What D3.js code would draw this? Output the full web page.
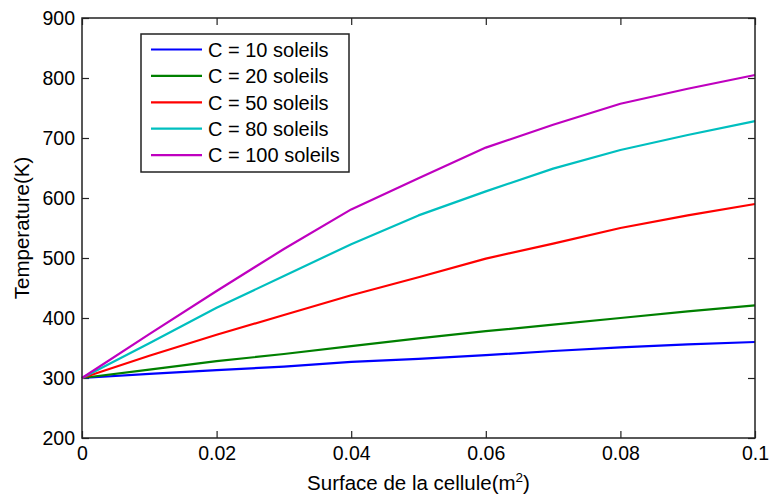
<!DOCTYPE html>
<html>
<head>
<meta charset="utf-8">
<script src="https://cdn.jsdelivr.net/npm/d3@7"></script>
<style>
  html, body { margin: 0; padding: 0; background: #fff; }
  svg { display: block; font-family: "Liberation Sans", Arial, sans-serif; }
</style>
</head>
<body>
<svg id="chart" width="773" height="497"></svg>
<script>
// ---- data ----
const surfaces = [0, 0.01, 0.02, 0.03, 0.04, 0.05, 0.06, 0.07, 0.08, 0.09, 0.1];
const seriesNames = ["C = 10 soleils", "C = 20 soleils", "C = 50 soleils", "C = 80 soleils", "C = 100 soleils"];
const tempC10  = [300, 307, 313, 319, 327, 332, 338, 345, 351, 356, 360];
const tempC20  = [300, 314, 328, 340, 353, 366, 378, 389, 400, 411, 421];
const tempC50  = [300, 337, 372, 405, 438, 468, 499, 524, 550, 571, 590];
const tempC80  = [300, 358, 417, 470, 523, 571, 611, 649, 680, 705, 728];
const tempC100 = [300, 373, 445, 515, 581, 633, 684, 722, 757, 782, 805];
const seriesColors = ["#0000ff", "#008000", "#ff0000", "#00bfbf", "#bf00bf"];
const xTicks = [0, 0.02, 0.04, 0.06, 0.08, 0.1];
const xTickLabels = ["0", "0.02", "0.04", "0.06", "0.08", "0.1"];
const yTicks = [200, 300, 400, 500, 600, 700, 800, 900];

const allSeries = [tempC10, tempC20, tempC50, tempC80, tempC100];

// ---- layout ----
const svg = d3.select("#chart");
const pLeft = 82, pRight = 755, pTop = 18, pBottom = 438;
const x = d3.scaleLinear().domain([0, 0.1]).range([pLeft, pRight]);
const y = d3.scaleLinear().domain([200, 900]).range([pBottom, pTop]);
const fontSize = 19.5;
const axisColor = "#222";

function styleAxis(g) {
  g.select(".domain").remove();
  g.selectAll(".tick line").attr("stroke", axisColor).attr("stroke-width", 1.2);
  g.selectAll(".tick text").attr("fill", "#000").style("font-size", fontSize + "px")
    .style("font-family", '"Liberation Sans", Arial, sans-serif');
}

// bottom axis
svg.append("g").attr("transform", `translate(0,${pBottom})`)
  .call(d3.axisBottom(x).tickValues(xTicks).tickSize(-7).tickPadding(8)
    .tickFormat((d, i) => xTickLabels[i]))
  .call(styleAxis);
// top axis (ticks only)
svg.append("g").attr("transform", `translate(0,${pTop})`)
  .call(d3.axisTop(x).tickValues(xTicks).tickSize(-7).tickFormat(""))
  .call(styleAxis);
// left axis
svg.append("g").attr("transform", `translate(${pLeft},0)`)
  .call(d3.axisLeft(y).tickValues(yTicks).tickSize(-7).tickPadding(7).tickFormat(d3.format("d")))
  .call(styleAxis);
// right axis (ticks only)
svg.append("g").attr("transform", `translate(${pRight},0)`)
  .call(d3.axisRight(y).tickValues(yTicks).tickSize(-7).tickFormat(""))
  .call(styleAxis);

// lines
const line = d3.line().x((d, i) => x(surfaces[i])).y(d => y(d));
allSeries.forEach((s, k) => {
  svg.append("path").datum(s)
    .attr("d", line)
    .attr("fill", "none")
    .attr("stroke", seriesColors[k])
    .attr("stroke-width", 2.2)
    .attr("stroke-linejoin", "round");
});

// frame
svg.append("rect")
  .attr("x", pLeft).attr("y", pTop)
  .attr("width", pRight - pLeft).attr("height", pBottom - pTop)
  .attr("fill", "none").attr("stroke", axisColor).attr("stroke-width", 1.5);

// legend
const lg = svg.append("g");
lg.append("rect")
  .attr("x", 141).attr("y", 34).attr("width", 208).attr("height", 138)
  .attr("fill", "#fff").attr("stroke", axisColor).attr("stroke-width", 1.5);
seriesNames.forEach((name, k) => {
  const yy = 49.5 + k * 26.4;
  lg.append("line").attr("x1", 151).attr("x2", 202).attr("y1", yy).attr("y2", yy)
    .attr("stroke", seriesColors[k]).attr("stroke-width", 2.2);
  lg.append("text").attr("x", 208).attr("y", yy).attr("dy", "0.36em")
    .style("font-size", "20px").attr("fill", "#000").text(name);
});

// axis titles
const xt = svg.append("text")
  .attr("x", (pLeft + pRight) / 2).attr("y", 490)
  .attr("text-anchor", "middle").style("font-size", "20.5px").attr("fill", "#000");
xt.append("tspan").text("Surface de la cellule(m");
xt.append("tspan").attr("dy", -8).style("font-size", "13.5px").text("2");
xt.append("tspan").attr("dy", 8).text(")");

svg.append("text")
  .attr("transform", `translate(29,${(pTop + pBottom) / 2}) rotate(-90)`)
  .attr("text-anchor", "middle").style("font-size", "20.5px").attr("fill", "#000")
  .text("Temperature(K)");
</script>
</body>
</html>
